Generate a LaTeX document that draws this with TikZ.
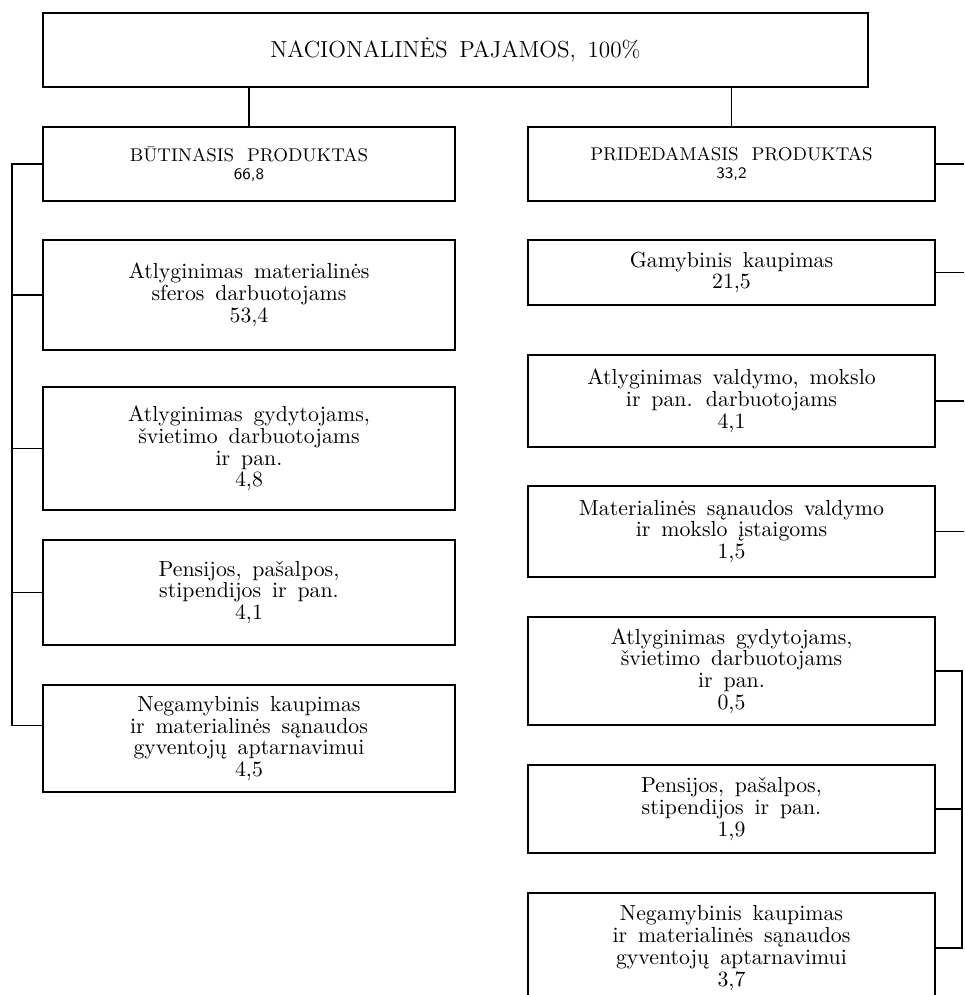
\documentclass[tikz,border=0pt]{standalone}
\usepackage{fontspec}
\newcommand{\boxfont}{\fontsize{10.9}{10.9}\selectfont\addfontfeature{LetterSpace=2}\spaceskip=0.5em}
\newcommand{\hdfont}{\fontsize{9.2}{9.5}\selectfont\addfontfeature{LetterSpace=6}\spaceskip=0.7em}
\newcommand{\numfont}{\sffamily\fontsize{8}{8.5}\selectfont}
\newcommand{\topfont}{\fontsize{11.6}{12}\selectfont\addfontfeature{LetterSpace=6}\spaceskip=0.5em}

\tikzset{   boxleft/.style={draw,rectangle,minimum width=206pt,inner sep=0pt,align=center,font=\boxfont},
            boxright/.style={draw,rectangle,minimum width=203.5pt,inner sep=0pt,align=center,font=\boxfont},
            topbox/.style={draw,rectangle,minimum width=412.5pt,minimum height=37pt,inner sep=0pt,font=\topfont},
}

\begin{document}
\begin{tikzpicture}[x=0.5pt,y=-0.5pt,line width=0.8pt]
    \useasboundingbox (0,0) rectangle (964,995);
    \clip (0,0) rectangle (964,995);

    \node[topbox] (nac) at (455.5,50) {NACIONALINĖS PAJAMOS, 100\%}; % top box

    % left column
    \node[boxleft,minimum height=37pt] (but) at (249,164) {{\hdfont BŪTINASIS PRODUKTAS}\\[-2pt]{\numfont 66,8}};
    \node[boxleft,minimum height=55pt] (atlm) at (249,295) {Atlyginimas materialinės\\sferos darbuotojams\\53,4};
    \node[boxleft,minimum height=61.5pt] (atlg) at (249,448.5) {Atlyginimas gydytojams,\\švietimo darbuotojams\\ir pan.\\4,8};
    \node[boxleft,minimum height=52.5pt] (pens) at (249,592.5) {Pensijos, pašalpos,\\stipendijos ir pan.\\4,1};
    \node[boxleft,minimum height=53.5pt] (negl) at (249,738.5) {Negamybinis kaupimas\\ir materialinės sąnaudos\\gyventojų aptarnavimui\\4,5};

    % right column
    \node[boxright,minimum height=37pt] (prid) at (731.5,164) {{\hdfont PRIDEDAMASIS PRODUKTAS}\\[-2pt]{\numfont 33,2}};
    \node[boxright,minimum height=32.5pt] (gam) at (731.5,272.5) {Gamybinis kaupimas\\21,5};
    \node[boxright,minimum height=46pt] (atlv) at (731.5,401) {Atlyginimas valdymo, mokslo\\ir pan. darbuotojams\\4,1};
    \node[boxright,minimum height=45.5pt] (mat) at (731.5,531.5) {Materialinės sąnaudos valdymo\\ir mokslo įstaigoms\\1,5};
    \node[boxright,minimum height=54pt] (atlr) at (731.5,671) {Atlyginimas gydytojams,\\švietimo darbuotojams\\ir pan.\\0,5};
    \node[boxright,minimum height=44pt] (pensr) at (731.5,809) {Pensijos, pašalpos,\\stipendijos ir pan.\\1,9};
    \node[boxright,minimum height=55pt] (negr) at (731.5,948) {Negamybinis kaupimas\\ir materialinės sąnaudos\\gyventojų aptarnavimui\\3,7};

    \draw (nac.south -| but.north) -- (but.north);   % split of the top box
    \draw (nac.south -| prid.north) -- (prid.north);

    \coordinate (lbar) at (12,0);   % left bracket
    \draw (but.west) -- (but.west -| lbar) |- ([yshift=6.5pt]negl.west);
    \foreach \n in {atlm,atlg,pens} \draw (\n.west) -- (\n.west -| lbar);

    \coordinate (redge) at (964,0);   % stubs running off to the right
    \foreach \n in {prid,gam,atlv,mat} \draw (\n.east) -- (\n.east -| redge);

    \coordinate (rbar) at (962,0);   % right bracket
    \draw (atlr.east) -- (atlr.east -| rbar) |- (negr.east);
    \draw (pensr.east) -- (pensr.east -| rbar);
\end{tikzpicture}
\end{document}
